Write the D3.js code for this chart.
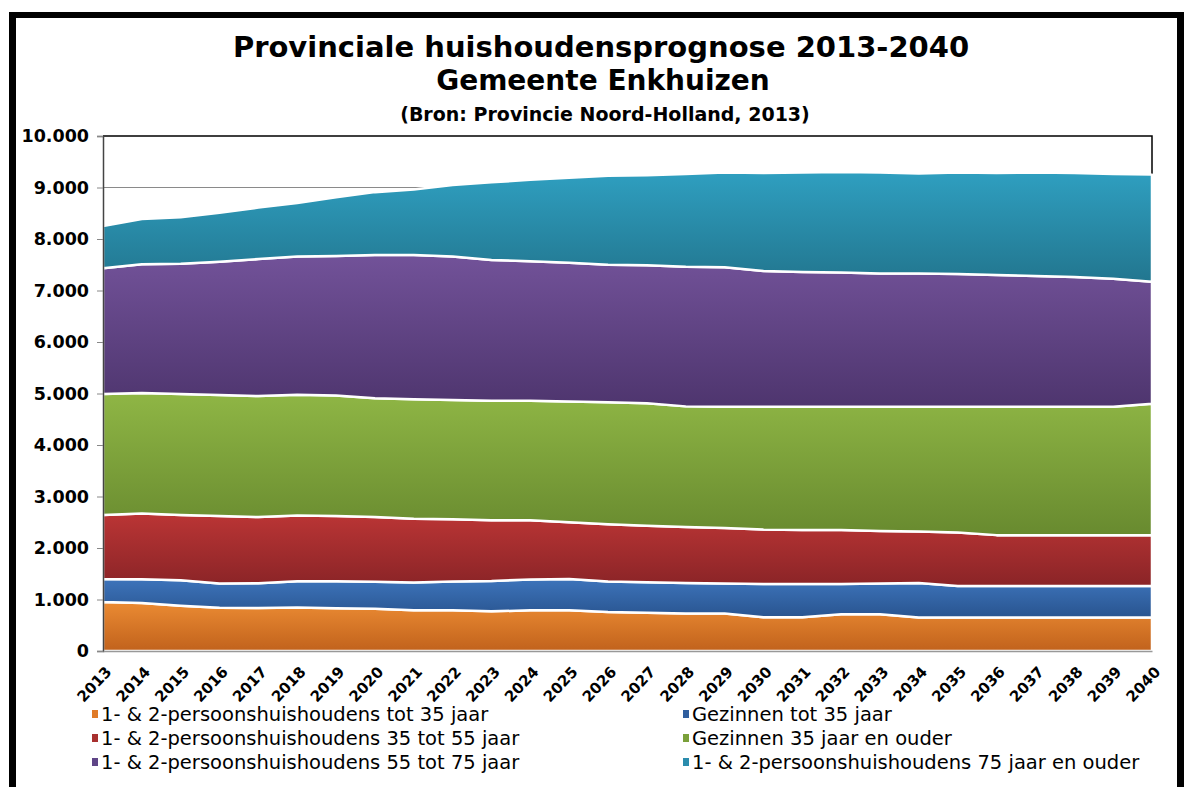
<!DOCTYPE html>
<html>
<head>
<meta charset="utf-8">
<script src="https://cdn.jsdelivr.net/npm/d3@7/dist/d3.min.js"></script>
<style>
  body { margin: 0; background: #fff; }
  svg { display: block; }
</style>
</head>
<body>
<svg id="chart" width="1184" height="787"></svg>
<script>
// Years on the horizontal axis
const years = ["2013","2014","2015","2016","2017","2018","2019","2020","2021","2022",
  "2023","2024","2025","2026","2027","2028","2029","2030","2031","2032",
  "2033","2034","2035","2036","2037","2038","2039","2040"];

// Number of households per group (stacked bottom to top)
const eenTwee_tot35   = [950, 930, 880, 840, 835, 845, 830, 820, 790, 790, 770, 790, 790, 755,
                         745, 730, 730, 655, 655, 712, 712, 650, 650, 650, 650, 650, 650, 650];
const gezinnen_tot35  = [450, 465, 495, 470, 480, 510, 525, 525, 540, 560, 590, 600, 610, 595,
                         590, 590, 580, 645, 645, 588, 598, 670, 610, 610, 610, 610, 610, 610];
const eenTwee_35_55   = [1240, 1275, 1265, 1310, 1285, 1275, 1265, 1255, 1240, 1210, 1180, 1150, 1100, 1110,
                         1095, 1090, 1080, 1060, 1050, 1050, 1020, 1000, 1040, 990, 990, 990, 990, 990];
const gezinnen_35plus = [2350, 2340, 2350, 2350, 2350, 2345, 2340, 2310, 2320, 2315, 2320, 2320, 2345, 2370,
                         2380, 2340, 2355, 2385, 2395, 2395, 2415, 2425, 2445, 2495, 2495, 2495, 2495, 2550];
const eenTwee_55_75   = [2440, 2500, 2530, 2590, 2660, 2685, 2710, 2780, 2800, 2785, 2730, 2710, 2695, 2670,
                         2680, 2710, 2705, 2635, 2615, 2605, 2585, 2585, 2575, 2555, 2535, 2515, 2485, 2370];
const eenTwee_75plus  = [820, 880, 900, 950, 1000, 1040, 1140, 1220, 1270, 1390, 1510, 1580, 1650, 1730,
                         1750, 1800, 1840, 1900, 1930, 1950, 1960, 1940, 1970, 1980, 2010, 2020, 2030, 2080];

const seriesNames = [
  "1- & 2-persoonshuishoudens tot 35 jaar",
  "Gezinnen tot 35 jaar",
  "1- & 2-persoonshuishoudens 35 tot 55 jaar",
  "Gezinnen 35 jaar en ouder",
  "1- & 2-persoonshuishoudens 55 tot 75 jaar",
  "1- & 2-persoonshuishoudens 75 jaar en ouder"
];
const seriesValues = [eenTwee_tot35, gezinnen_tot35, eenTwee_35_55, gezinnen_35plus, eenTwee_55_75, eenTwee_75plus];

const yTicks = [0, 1000, 2000, 3000, 4000, 5000, 6000, 7000, 8000, 9000, 10000];

const titleLines = ["Provinciale huishoudensprognose 2013-2040", "Gemeente Enkhuizen"];
const sourceLine = "(Bron: Provincie Noord-Holland, 2013)";

// Fill colours: light at the top of each band, dark at the bottom
const gradTop    = ["#eb8b33", "#3d74bb", "#bb3535", "#8fb645", "#725299", "#2f9fc0"];
const gradBottom = ["#c1621c", "#29548f", "#8a2427", "#688a2f", "#4e356e", "#22768f"];
const legendColor = ["#e07b28", "#2f5e9e", "#a8302f", "#7aa03a", "#5f4587", "#2b8cad"];

const font = "'DejaVu Sans', Verdana, sans-serif";

// Build rows for the stack layout
const rows = years.map((yr, i) => {
  const r = { year: yr };
  seriesNames.forEach((n, k) => { r[n] = seriesValues[k][i]; });
  return r;
});

const svg = d3.select("#chart");
const margin = { left: 103, right: 1152, top: 136, bottom: 651 };

const x = d3.scalePoint().domain(years).range([margin.left, margin.right]);
const y = d3.scaleLinear().domain([0, 10000]).range([margin.bottom, margin.top]);

// Outer frame
svg.append("rect").attr("x", 9).attr("y", 12).attr("width", 7).attr("height", 787).attr("fill", "#000");
svg.append("rect").attr("x", 9).attr("y", 12).attr("width", 1175).attr("height", 6).attr("fill", "#000");
svg.append("rect").attr("x", 1177).attr("y", 12).attr("width", 7).attr("height", 787).attr("fill", "#000");

// Titles
const titleG = svg.append("g").attr("font-family", font).attr("font-weight", "bold").attr("fill", "#000").attr("text-anchor", "middle");
titleG.append("text").attr("x", 601).attr("y", 57).attr("font-size", 29).text(titleLines[0]);
titleG.append("text").attr("x", 603).attr("y", 90).attr("font-size", 28).text(titleLines[1]);
titleG.append("text").attr("x", 605).attr("y", 121).attr("font-size", 19).text(sourceLine);

// Gradients
const defs = svg.append("defs");
seriesNames.forEach((n, k) => {
  const g = defs.append("linearGradient").attr("id", "grad" + k)
    .attr("x1", 0).attr("y1", 0).attr("x2", 0).attr("y2", 1);
  g.append("stop").attr("offset", "0%").attr("stop-color", gradTop[k]);
  g.append("stop").attr("offset", "100%").attr("stop-color", gradBottom[k]);
});

// Gridlines
svg.append("g").selectAll("line").data(yTicks.filter(t => t > 0 && t < 10000)).join("line")
  .attr("x1", margin.left).attr("x2", margin.right)
  .attr("y1", d => y(d)).attr("y2", d => y(d))
  .attr("stroke", "#8a8a8a").attr("stroke-width", 1);

// Plot border (top and right)
svg.append("path")
  .attr("d", `M${margin.left},${y(10000)}H${margin.right}V${y(9000)}`)
  .attr("fill", "none").attr("stroke", "#000").attr("stroke-width", 1.5);

// Stacked areas
const stack = d3.stack().keys(seriesNames);
const layers = stack(rows);
const area = d3.area()
  .x(d => x(d.data.year))
  .y0(d => y(d[0]))
  .y1(d => y(d[1]));

svg.append("g").selectAll("path").data(layers).join("path")
  .attr("d", area)
  .attr("fill", (d, i) => `url(#grad${i})`)
  .attr("stroke", "#fff").attr("stroke-width", 2.5).attr("stroke-linejoin", "round");

// Axes
const locale = d3.formatLocale({ decimal: ",", thousands: ".", grouping: [3], currency: ["", ""] });
const fmt = locale.format(",d");

const yAxis = svg.append("g").attr("transform", `translate(${margin.left},0)`)
  .call(d3.axisLeft(y).tickValues(yTicks).tickFormat(fmt).tickSize(6).tickPadding(8));
yAxis.select(".domain").attr("stroke", "#444").attr("stroke-width", 1.5);
yAxis.selectAll(".tick line").attr("stroke", "#888");
yAxis.selectAll("text").attr("font-family", font).attr("font-weight", "bold").attr("font-size", 17.5).attr("fill", "#000");

const xAxis = svg.append("g").attr("transform", `translate(0,${margin.bottom})`)
  .call(d3.axisBottom(x).tickSize(0).tickPadding(0));
xAxis.select(".domain").attr("stroke", "#999").attr("stroke-width", 1.5);
xAxis.selectAll("text")
  .attr("font-family", font).attr("font-weight", "bold").attr("font-size", 15).attr("fill", "#000")
  .attr("text-anchor", "end")
  .attr("y", 0)
  .attr("dy", "0.35em")
  .attr("transform", "translate(5,18) rotate(-47)");

// Legend
const legendCols = [92, 683];
const legendRows = [714, 738, 762];
const legend = svg.append("g").attr("font-family", font).attr("font-size", 19.5).attr("fill", "#000");
seriesNames.forEach((n, k) => {
  const cx = legendCols[k % 2];
  const cy = legendRows[Math.floor(k / 2)];
  legend.append("rect").attr("x", cx).attr("y", cy - 4).attr("width", 6).attr("height", 8).attr("fill", legendColor[k]);
  legend.append("text").attr("x", cx + 9).attr("y", cy).attr("dy", "0.35em").text(n);
});
</script>
</body>
</html>
